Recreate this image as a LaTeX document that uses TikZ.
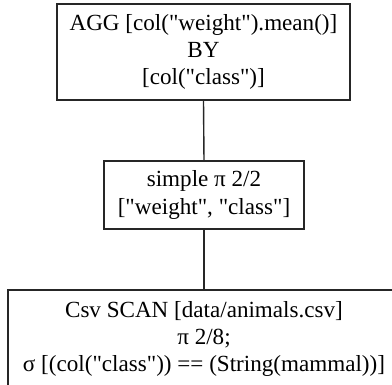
\documentclass[tikz,border=0pt]{standalone}
\usepackage{fontspec}
\setmainfont{Liberation Serif}
\newcommand{\dq}{\textquotedbl}
\begin{document}
\begin{tikzpicture}[x=1pt,y=1pt,
  opbox/.style={draw=black!85,line width=1.3pt,rectangle,align=center,inner sep=0pt,
    font=\fontsize{23.1}{27.3}\selectfont},
  link/.style={draw=black!85,line width=1.4pt}]
\useasboundingbox (0,0) rectangle (392,-384);
\clip (0,0) rectangle (392,-384);
\node[opbox,minimum width=293pt,minimum height=96pt] (agg) at (203.5,-52)
  {AGG [col(\dq weight\dq).mean()]\\BY\\{}[col(\dq class\dq)]};
\node[opbox,minimum width=200pt,minimum height=68pt] (proj) at (204,-195)
  {simple π 2/2\\{}[\dq weight\dq, \dq class\dq]};
\node[opbox,minimum width=392pt,minimum height=98pt] (scan) at (204,-339)
  {Csv SCAN [data/animals.csv]\\π 2/8;\\σ [(col(\dq class\dq)) == (String(mammal))]};
\draw[link] (agg.south) -- (proj.north);
\draw[link] (proj.south) -- (scan.north);
\end{tikzpicture}
\end{document}
